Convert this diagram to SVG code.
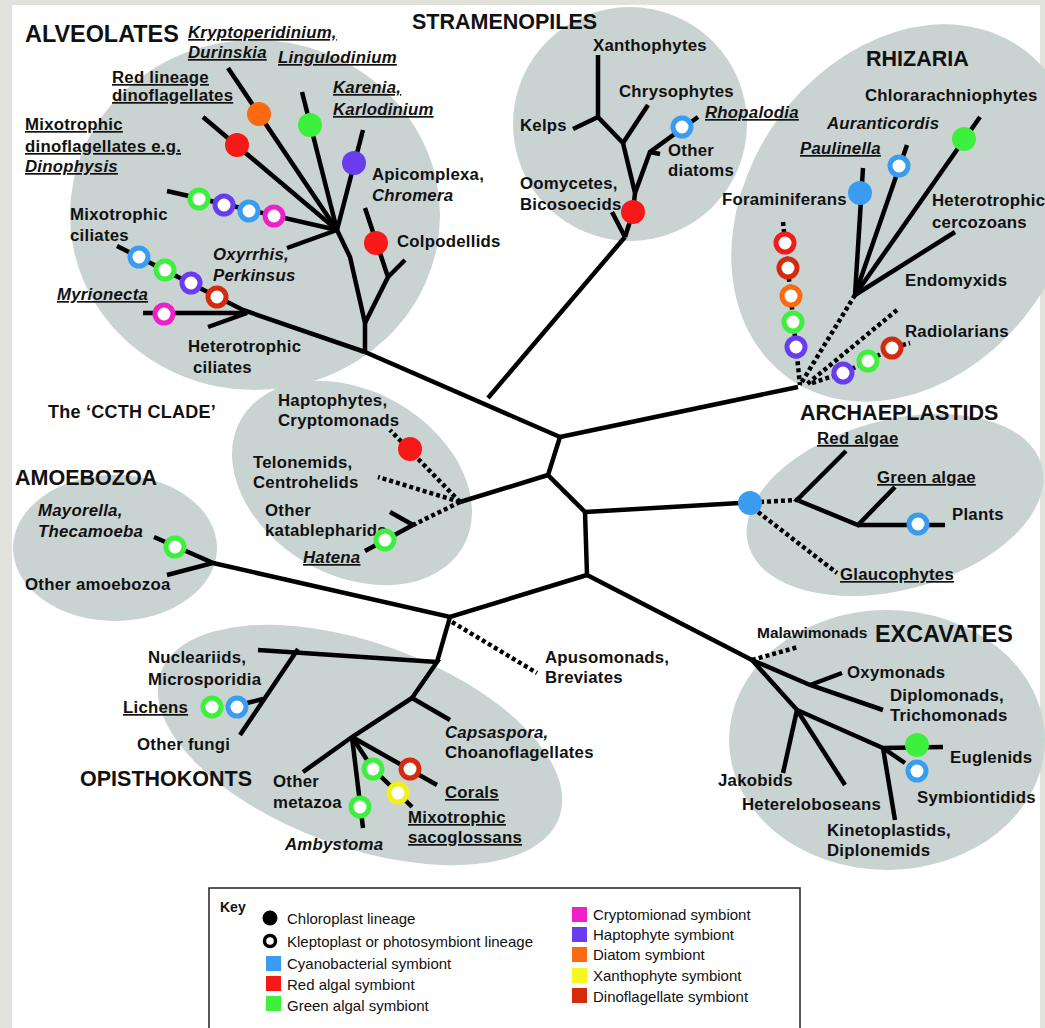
<svg xmlns="http://www.w3.org/2000/svg" width="1045" height="1028" viewBox="0 0 1045 1028">
<style>
.blob{fill:#c8d3d2}
.br{fill:none;stroke:#000;stroke-width:4.5}
.dt{fill:none;stroke:#000;stroke-width:4.5;stroke-dasharray:4 3}
.ring{fill:#fff;stroke-width:5}
text{font-family:"Liberation Sans",Arial,Helvetica,sans-serif;font-weight:bold;font-size:16.8px;letter-spacing:0.25px;fill:#111}
.it{font-style:italic}
.ul{text-decoration:underline}
.hd{font-size:21.5px;letter-spacing:0}
.hl{font-size:23.4px;letter-spacing:0}
.key{font-weight:normal;font-size:15px;letter-spacing:0}
.fb{fill:#3a9cf0}.sb{stroke:#3a9cf0}
.fr{fill:#f71818}.sr{stroke:#f01c1c}
.fg{fill:#3ef03e}.sg{stroke:#3ef03e}
.fm{fill:#f020c8}.sm{stroke:#f020c8}
.fp{fill:#6a3cf0}.sp{stroke:#6a3cf0}
.fo{fill:#fb6a12}.so{stroke:#fb6a12}
.fy{fill:#f6f623}.sy{stroke:#f2ee1a}
.fd{fill:#d42a0e}.sd{stroke:#d42a0e}
</style>

<!-- page frame -->
<rect x="0" y="0" width="1045" height="1028" fill="#e2e2dd"/>
<rect x="12" y="5" width="1028" height="1023" fill="#fff"/>

<!-- shaded clade areas -->
<g id="clade-areas">
  <ellipse id="area-alveolates" class="blob" cx="255" cy="215" rx="185" ry="175"/>
  <circle id="area-stramenopiles" class="blob" cx="630" cy="124" r="117"/>
  <ellipse id="area-rhizaria" class="blob" cx="905" cy="213" rx="202" ry="158" transform="rotate(-55 905 213)"/>
  <ellipse id="area-ccth" class="blob" cx="352" cy="483" rx="128" ry="92" transform="rotate(30 352 483)"/>
  <ellipse id="area-archaeplastids" class="blob" cx="895" cy="505" rx="152" ry="85" transform="rotate(-15 895 505)"/>
  <ellipse id="area-amoebozoa" class="blob" cx="115" cy="548" rx="102" ry="73"/>
  <ellipse id="area-opisthokonts" class="blob" cx="360" cy="745" rx="212" ry="102" transform="rotate(20 360 745)"/>
  <ellipse id="area-excavates" class="blob" cx="887" cy="740" rx="158" ry="130"/>
</g>

<!-- tree branches -->
<g id="connectors">
  <!-- backbone -->
  <path class="br" d="M365,352 L560,437"/>
  <path class="br" d="M625,237 L488,398"/>
  <path class="br" d="M560,437 L798,387"/>
  <path class="br" d="M560,437 L548,475 L585,512 L587,575"/>
  <path class="br" d="M548,475 L460,502"/>
  <path class="br" d="M585,512 L740,503"/>
  <path class="br" d="M587,575 L752,660"/>
  <path class="br" d="M587,575 L450,617 L213,563"/>
  <path class="br" d="M450,617 L437,662"/>
  <path class="dt" d="M452,622 L537,673"/>

  <!-- alveolates -->
  <path class="br" d="M203,117 L337,230"/>
  <path class="br" d="M228,68 L337,230"/>
  <path class="br" d="M302,92 L337,230"/>
  <path class="br" d="M363,130 L337,230"/>
  <path class="br" d="M167,191 L337,230"/>
  <path class="br" d="M287,248 L337,230"/>
  <path class="br" d="M337,230 L350,257 L365,323 L365,352"/>
  <path class="br" d="M365,208 L388,277 L365,323"/>
  <path class="br" d="M405,260 L388,277"/>
  <path class="br" d="M117,246 L243,310 L365,352"/>
  <path class="br" d="M143,313 L247,313 L208,327"/>

  <!-- stramenopiles -->
  <path class="br" d="M598,55 L598,117 L623,143 L635,193 L633,212 L625,237"/>
  <path class="br" d="M573,129 L598,117"/>
  <path class="br" d="M648,105 L623,143"/>
  <path class="br" d="M635,193 L650,152 L698,117"/>
  <path class="br" d="M650,152 L660,154"/>
  <path class="br" d="M612,212 L625,237"/>

  <!-- rhizaria -->
  <path class="br" d="M980,117 L855,295"/>
  <path class="br" d="M907,145 L855,295"/>
  <path class="br" d="M863,168 L855,295"/>
  <path class="br" d="M955,232 L855,295"/>
  <path class="dt" d="M855,295 L800,385"/>
  <path class="dt" d="M783,222 L800,385"/>
  <path class="dt" d="M897,310 L806,385"/>
  <path class="dt" d="M812,383 L843,373 L868,361 L892,348 L910,343"/>

  <!-- CCTH clade -->
  <path class="dt" d="M460,502 L390,430"/>
  <path class="dt" d="M460,502 L378,477"/>
  <path class="dt" d="M460,502 L413,525"/>
  <path class="br" d="M390,512 L413,525 L365,551"/>

  <!-- archaeplastids -->
  <path class="dt" d="M760,502 L797,500"/>
  <path class="br" d="M846,451 L797,500 L858,525 L895,487"/>
  <path class="br" d="M858,525 L945,525"/>
  <path class="dt" d="M758,512 L837,573"/>

  <!-- amoebozoa -->
  <path class="br" d="M154,537 L213,563 L167,575"/>

  <!-- opisthokonts -->
  <path class="br" d="M258,650 L437,662 L412,698 L450,720"/>
  <path class="br" d="M298,649 L240,735"/>
  <path class="br" d="M263,699 L247,703"/>
  <path class="br" d="M412,698 L352,737 L303,772"/>
  <path class="br" d="M352,737 L363,828"/>
  <path class="br" d="M352,737 L373,769 L398,793 L412,807"/>
  <path class="br" d="M352,737 L437,785"/>

  <!-- excavates -->
  <path class="dt" d="M752,660 L798,647"/>
  <path class="br" d="M752,660 L810,685 L883,710"/>
  <path class="br" d="M810,685 L842,673"/>
  <path class="br" d="M752,660 L797,710 L883,748 L943,747"/>
  <path class="br" d="M797,710 L783,773"/>
  <path class="br" d="M797,710 L845,785"/>
  <path class="br" d="M883,748 L905,763"/>
  <path class="br" d="M883,748 L895,820"/>
</g>

<g id="alveolates">
  <circle class="fr" cx="237" cy="145" r="12"/>
  <circle class="fo" cx="259" cy="114" r="12"/>
  <circle class="fg" cx="310" cy="125" r="12"/>
  <circle class="fp" cx="354" cy="163" r="12"/>
  <circle class="fr" cx="376" cy="243" r="12"/>
  <circle class="ring sg" cx="199" cy="199" r="9"/>
  <circle class="ring sp" cx="224" cy="205" r="9"/>
  <circle class="ring sb" cx="249" cy="211" r="9"/>
  <circle class="ring sm" cx="274" cy="216" r="9"/>
  <circle class="ring sb" cx="139" cy="257" r="9"/>
  <circle class="ring sg" cx="165" cy="270" r="9"/>
  <circle class="ring sp" cx="191" cy="283" r="9"/>
  <circle class="ring sd" cx="217" cy="297" r="9"/>
  <circle class="ring sm" cx="164" cy="314" r="9"/>
  <text class="hl" x="25" y="42">ALVEOLATES</text>
  <text class="it ul" x="188" y="38">Kryptoperidinium,</text>
  <text class="it ul" x="188" y="58">Durinskia</text>
  <text class="it ul" x="278" y="63">Lingulodinium</text>
  <text class="ul" x="112" y="83">Red lineage</text>
  <text class="ul" x="112" y="101">dinoflagellates</text>
  <text class="ul" x="25" y="130">Mixotrophic</text>
  <text class="ul" x="25" y="152">dinoflagellates e.g.</text>
  <text class="it ul" x="25" y="172">Dinophysis</text>
  <text class="it ul" x="333" y="93">Karenia,</text>
  <text class="it ul" x="333" y="115">Karlodinium</text>
  <text x="372" y="180">Apicomplexa,</text>
  <text class="it" x="372" y="201">Chromera</text>
  <text x="397" y="247">Colpodellids</text>
  <text x="70" y="220">Mixotrophic</text>
  <text x="70" y="241">ciliates</text>
  <text class="it" x="213" y="260">Oxyrrhis,</text>
  <text class="it" x="213" y="281">Perkinsus</text>
  <text class="it ul" x="57" y="300">Myrionecta</text>
  <text x="188" y="352">Heterotrophic</text>
  <text x="193" y="373">ciliates</text>
</g>

<g id="stramenopiles">
  <circle class="ring sb" cx="682" cy="127" r="9"/>
  <circle class="fr" cx="633" cy="212" r="12"/>
  <text class="hd" x="412" y="29">STRAMENOPILES</text>
  <text x="593" y="51">Xanthophytes</text>
  <text x="619" y="97">Chrysophytes</text>
  <text x="520" y="131">Kelps</text>
  <text class="it ul" x="705" y="118">Rhopalodia</text>
  <text x="668" y="156">Other</text>
  <text x="668" y="176">diatoms</text>
  <text x="520" y="189">Oomycetes,</text>
  <text x="520" y="210">Bicosoecids</text>
</g>

<g id="rhizaria">
  <circle class="fg" cx="964" cy="139" r="12"/>
  <circle class="ring sb" cx="899" cy="166" r="9"/>
  <circle class="fb" cx="860" cy="193" r="12"/>
  <circle class="ring sr" cx="785" cy="243" r="9"/>
  <circle class="ring sd" cx="788" cy="268" r="9"/>
  <circle class="ring so" cx="791" cy="296" r="9"/>
  <circle class="ring sg" cx="793" cy="322" r="9"/>
  <circle class="ring sp" cx="796" cy="347" r="9"/>
  <circle class="ring sp" cx="843" cy="373" r="9"/>
  <circle class="ring sg" cx="868" cy="361" r="9"/>
  <circle class="ring sd" cx="892" cy="348" r="9"/>
  <text class="hd" x="866" y="66">RHIZARIA</text>
  <text x="865" y="101">Chlorarachniophytes</text>
  <text class="it" x="827" y="129">Auranticordis</text>
  <text class="it ul" x="800" y="154">Paulinella</text>
  <text x="722" y="205">Foraminiferans</text>
  <text x="932" y="206">Heterotrophic</text>
  <text x="932" y="228">cercozoans</text>
  <text x="905" y="286">Endomyxids</text>
  <text x="905" y="337">Radiolarians</text>
</g>

<g id="ccth-clade">
  <text style="font-size:18px" x="48" y="418">The ‘CCTH CLADE’</text>
  <text x="278" y="406">Haptophytes,</text>
  <text x="278" y="426">Cryptomonads</text>
  <text x="253" y="468">Telonemids,</text>
  <text x="253" y="488">Centrohelids</text>
  <text x="265" y="516">Other</text>
  <text x="265" y="536">katablepharids</text>
  <text class="it ul" x="303" y="563">Hatena</text>
  <circle class="fr" cx="410" cy="449" r="12"/>
  <circle class="ring sg" cx="385" cy="540" r="9"/>
</g>

<g id="archaeplastids">
  <circle class="fb" cx="750" cy="503" r="12"/>
  <circle class="ring sb" cx="918" cy="524" r="9"/>
  <text class="hd" x="800" y="420">ARCHAEPLASTIDS</text>
  <text class="ul" x="817" y="444">Red algae</text>
  <text class="ul" x="877" y="483">Green algae</text>
  <text x="952" y="520">Plants</text>
  <text class="ul" x="840" y="580">Glaucophytes</text>
</g>

<g id="amoebozoa">
  <circle class="ring sg" cx="175" cy="547" r="9"/>
  <text class="hd" x="15" y="485">AMOEBOZOA</text>
  <text class="it" x="38" y="516">Mayorella,</text>
  <text class="it" x="38" y="537">Thecamoeba</text>
  <text x="25" y="590">Other amoebozoa</text>
</g>

<g id="opisthokonts">
  <circle class="ring sg" cx="212" cy="707" r="9"/>
  <circle class="ring sb" cx="237" cy="707" r="9"/>
  <circle class="ring sg" cx="360" cy="807" r="9"/>
  <circle class="ring sg" cx="373" cy="769" r="9"/>
  <circle class="ring sy" cx="398" cy="793" r="9"/>
  <circle class="ring sd" cx="410" cy="769" r="9"/>
  <text x="148" y="663">Nucleariids,</text>
  <text x="148" y="685">Microsporidia</text>
  <text class="ul" x="123" y="713">Lichens</text>
  <text x="137" y="750">Other fungi</text>
  <text class="hd" x="80" y="786">OPISTHOKONTS</text>
  <text x="273" y="787">Other</text>
  <text x="273" y="808">metazoa</text>
  <text class="it" x="285" y="850">Ambystoma</text>
  <text x="545" y="663">Apusomonads,</text>
  <text x="545" y="683">Breviates</text>
  <text class="it" x="445" y="738">Capsaspora,</text>
  <text x="445" y="758">Choanoflagellates</text>
  <text class="ul" x="445" y="798">Corals</text>
  <text class="ul" x="408" y="823">Mixotrophic</text>
  <text class="ul" x="408" y="843">sacoglossans</text>
</g>

<g id="excavates">
  <circle class="fg" cx="917" cy="745" r="12"/>
  <circle class="ring sb" cx="917" cy="771" r="9"/>
  <text style="font-size:15.5px;letter-spacing:0" x="757" y="638">Malawimonads</text>
  <text class="hl" x="875" y="642">EXCAVATES</text>
  <text x="847" y="678">Oxymonads</text>
  <text x="890" y="701">Diplomonads,</text>
  <text x="890" y="721">Trichomonads</text>
  <text x="950" y="763">Euglenids</text>
  <text x="917" y="803">Symbiontidids</text>
  <text x="718" y="786">Jakobids</text>
  <text x="742" y="810">Hetereloboseans</text>
  <text x="827" y="836">Kinetoplastids,</text>
  <text x="827" y="856">Diplonemids</text>
</g>

<g id="key">
  <rect x="209" y="888" width="591" height="146" fill="#fff" stroke="#222" stroke-width="1.5"/>
  <text style="font-size:14px;letter-spacing:0" x="220" y="912">Key</text>
  <circle cx="270" cy="918" r="7.5" fill="#000"/>
  <circle cx="270" cy="941" r="5.5" fill="#fff" stroke="#000" stroke-width="3.5"/>
  <rect class="fb" x="266" y="956" width="15" height="15"/>
  <rect class="fr" x="266" y="976" width="15" height="15"/>
  <rect class="fg" x="266" y="996" width="15" height="15"/>
  <text class="key" x="287" y="924">Chloroplast lineage</text>
  <text class="key" x="287" y="947">Kleptoplast or photosymbiont lineage</text>
  <text class="key" x="287" y="969">Cyanobacterial symbiont</text>
  <text class="key" x="287" y="990">Red algal symbiont</text>
  <text class="key" x="287" y="1011">Green algal symbiont</text>
  <rect class="fm" x="572" y="907" width="15" height="15"/>
  <rect class="fp" x="572" y="927" width="15" height="15"/>
  <rect class="fo" x="572" y="947" width="15" height="15"/>
  <rect class="fy" x="572" y="968" width="15" height="15"/>
  <rect class="fd" x="572" y="988" width="15" height="15"/>
  <text class="key" x="593" y="920">Cryptomionad symbiont</text>
  <text class="key" x="593" y="940">Haptophyte symbiont</text>
  <text class="key" x="593" y="960">Diatom symbiont</text>
  <text class="key" x="593" y="981">Xanthophyte symbiont</text>
  <text class="key" x="593" y="1002">Dinoflagellate symbiont</text>
</g>
</svg>
